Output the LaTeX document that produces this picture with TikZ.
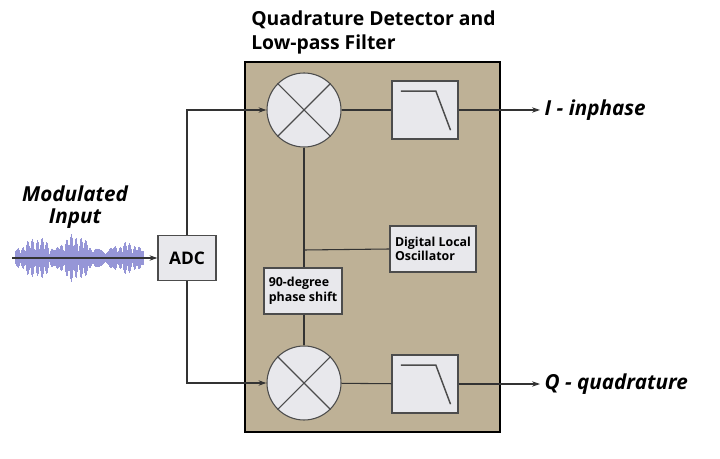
\documentclass[tikz,border=0pt]{standalone}
\usepackage{fontspec}
\setmainfont{Open Sans}
\usetikzlibrary{arrows.meta}
\definecolor{tan}{RGB}{190,177,150}
\definecolor{boxg}{RGB}{232,232,236}
\definecolor{wave}{RGB}{150,150,215}
\begin{document}
\begin{tikzpicture}[x=0.75pt,y=-0.75pt,
  wire/.style={draw=black!80,line width=0.8pt},
  arr/.style={wire,-{Stealth[length=6pt,width=4pt]}},
  blk/.style={draw=black!70,fill=boxg,line width=0.8pt,inner sep=0pt},
  lbl/.style={font=\bfseries\itshape\fontsize{15.5}{16.5}\selectfont},
  small/.style={font=\bfseries\fontsize{9.3}{11}\selectfont,align=left}]
\useasboundingbox (0,0) rectangle (720,459);
\fill[white] (0,0) rectangle (720,459);
\node[draw=black,line width=1.6pt,fill=tan,minimum width=255*0.75pt,minimum height=370*0.75pt,inner sep=0pt] (box) at (372.5,247) {};
\node[anchor=south west,font=\bfseries\fontsize{14.5}{18}\selectfont,align=left,inner sep=0pt] (title) at (251,54) {Quadrature Detector and\\Low-pass Filter};
% mixers
\foreach \n/\y in {m1/110,m2/383}{
  \node[blk,circle,minimum size=74*0.75pt] (\n) at (304,\y) {};
  \draw[black!70,line width=0.8pt] (\n.45) -- (\n.225) (\n.135) -- (\n.315);
}
% filters
\foreach \n/\y in {f1/110,f2/384}{
  \node[blk,minimum width=66*0.75pt,minimum height=58*0.75pt] (\n) at (425,\y) {};
  \draw[black!70,line width=1.1pt] ([xshift=7,yshift=-8]\n.north west) -- ([xshift=-17,yshift=-8]\n.north east) -- ([xshift=-6,yshift=7]\n.south east);
}
\node[blk,minimum width=86*0.75pt,minimum height=46*0.75pt,small] (dlo) at (433,249) {Digital Local\\Oscillator};
\node[blk,minimum width=78*0.75pt,minimum height=46*0.75pt,small] (ph) at (303,291) {90-degree\\phase shift};
\coordinate (j) at (304,250);
\draw[wire] (m1) -- (f1);
\draw[wire] (m2) -- (f2);
\draw[wire] (m1.south) -- (ph.north -| m1.south);
\draw[wire] (ph.south -| m2.north) -- (m2.north);
\draw[wire] (j) -- (dlo.west);
% ADC
\node[blk,minimum width=58*0.75pt,minimum height=45*0.75pt,font=\bfseries\fontsize{13}{15}\selectfont] (adc) at (187,258) {ADC};
\draw[arr] (adc.north) |- (m1.west);
\draw[arr] (adc.south) |- (m2.west);
% outputs
\coordinate (o1) at (540,110);
\coordinate (o2) at (540,384);
\draw[arr] (f1.east) -- (o1);
\draw[arr] (f2.east) -- (o2);
\node[lbl,anchor=west] (i) at (o1) {I - inphase};
\node[lbl,anchor=west] (q) at (o2) {Q - quadrature};
% input
\node[lbl,align=center] (mi) at (75,207) {Modulated\\Input};
\foreach \i in {0,...,128}{
  \pgfmathsetmacro{\a}{(4+20*abs(sin(\i*37))*abs(sin(\i*4+20))*abs(sin(\i*1.7+30))+6*abs(cos(\i*13)))*(1-0.35*abs((\i-64)/64))}
  \draw[wave,line width=0.6pt] (15+\i,258-\a) -- (15+\i,258+\a);
}
\coordinate (ws) at (12,258);
\draw[arr] (ws) -- (adc.west);
\end{tikzpicture}
\end{document}
